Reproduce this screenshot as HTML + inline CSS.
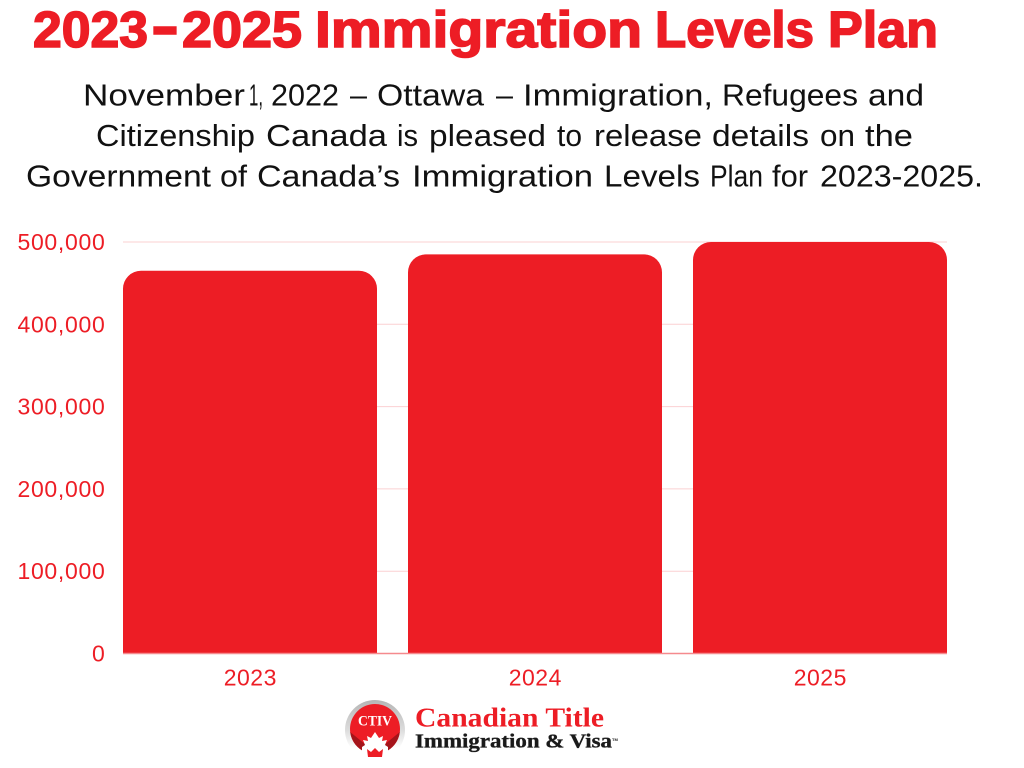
<!DOCTYPE html>
<html lang="en">
<head>
<meta charset="utf-8">
<title>2023-2025 Immigration Levels Plan</title>
<style>
html,body{margin:0;padding:0;background:#fff;width:1024px;height:768px;overflow:hidden}
svg{display:block}
text{font-family:"Liberation Sans",sans-serif}
</style>
</head>
<body>
<svg id="chart" width="1024" height="768" viewBox="0 0 1024 768" xmlns="http://www.w3.org/2000/svg">
  <defs>
    <linearGradient id="ringFade" x1="0" y1="0" x2="0" y2="1">
      <stop offset="0" stop-color="#b5b5b5"/>
      <stop offset="0.5" stop-color="#dcdcdc"/>
      <stop offset="0.8" stop-color="#ffffff"/>
    </linearGradient>
  </defs>
  <rect width="1024" height="768" fill="#ffffff"/>
  <g font-size="51" font-weight="700" fill="#ed1d25" stroke="#ed1d25" stroke-width="1.6">
    <text x="33" y="47" textLength="115" lengthAdjust="spacingAndGlyphs">2023</text>
    <text x="153.5" y="44" stroke-width="3.5" textLength="23" lengthAdjust="spacingAndGlyphs">–</text>
    <text x="182" y="47" textLength="120" lengthAdjust="spacingAndGlyphs">2025</text>
    <text x="315" y="47" textLength="327" lengthAdjust="spacingAndGlyphs">Immigration</text>
    <text x="655" y="47" textLength="159" lengthAdjust="spacingAndGlyphs">Levels</text>
    <text x="828" y="47" textLength="110" lengthAdjust="spacingAndGlyphs">Plan</text>
  </g>
  <g font-size="31" fill="#111111">
    <g>
      <text x="83" y="105.5" textLength="162" lengthAdjust="spacingAndGlyphs">November</text>
      <text x="249" y="105.5" textLength="14" lengthAdjust="spacingAndGlyphs">1,</text>
      <text x="271" y="105.5" textLength="68" lengthAdjust="spacingAndGlyphs">2022</text>
      <text x="350" y="105.5" textLength="17" lengthAdjust="spacingAndGlyphs">–</text>
      <text x="377" y="105.5" textLength="107" lengthAdjust="spacingAndGlyphs">Ottawa</text>
      <text x="496" y="105.5" textLength="17" lengthAdjust="spacingAndGlyphs">–</text>
      <text x="523" y="105.5" textLength="190" lengthAdjust="spacingAndGlyphs">Immigration,</text>
      <text x="722" y="105.5" textLength="136" lengthAdjust="spacingAndGlyphs">Refugees</text>
      <text x="868" y="105.5" textLength="56" lengthAdjust="spacingAndGlyphs">and</text>
    </g>
    <g>
      <text x="96" y="146" textLength="159" lengthAdjust="spacingAndGlyphs">Citizenship</text>
      <text x="266" y="146" textLength="121" lengthAdjust="spacingAndGlyphs">Canada</text>
      <text x="397" y="146" textLength="21" lengthAdjust="spacingAndGlyphs">is</text>
      <text x="429" y="146" textLength="117" lengthAdjust="spacingAndGlyphs">pleased</text>
      <text x="557" y="146" textLength="25" lengthAdjust="spacingAndGlyphs">to</text>
      <text x="594" y="146" textLength="108" lengthAdjust="spacingAndGlyphs">release</text>
      <text x="712" y="146" textLength="97" lengthAdjust="spacingAndGlyphs">details</text>
      <text x="820" y="146" textLength="35" lengthAdjust="spacingAndGlyphs">on</text>
      <text x="865" y="146" textLength="48" lengthAdjust="spacingAndGlyphs">the</text>
    </g>
    <g>
      <text x="26" y="186.5" textLength="185" lengthAdjust="spacingAndGlyphs">Government</text>
      <text x="220" y="186.5" textLength="27" lengthAdjust="spacingAndGlyphs">of</text>
      <text x="257" y="186.5" textLength="143" lengthAdjust="spacingAndGlyphs">Canada’s</text>
      <text x="412" y="186.5" textLength="181" lengthAdjust="spacingAndGlyphs">Immigration</text>
      <text x="604" y="186.5" textLength="96" lengthAdjust="spacingAndGlyphs">Levels</text>
      <text x="710" y="186.5" textLength="53" lengthAdjust="spacingAndGlyphs">Plan</text>
      <text x="772" y="186.5" textLength="36" lengthAdjust="spacingAndGlyphs">for</text>
      <text x="820" y="186.5" textLength="163" lengthAdjust="spacingAndGlyphs">2023-2025.</text>
    </g>
  </g>
  <g id="grid"></g>
  <g id="bars"></g>
  <g id="yaxis"></g>
  <g id="xaxis"></g>
  <g>
    <circle cx="375" cy="730" r="30" fill="url(#ringFade)"/>
    <circle cx="375" cy="729" r="25" fill="#ed1d25"/>
    <path d="M350.2 732 L366 745 L384 745 L399.8 732 A25 25 0 0 1 384 752.3 L366 752.3 A25 25 0 0 1 350.2 732 Z" fill="#a5141a"/>
    <text x="358" y="725.5" font-size="15" font-weight="700" fill="#ffffff" textLength="34" lengthAdjust="spacingAndGlyphs" style="font-family:'Liberation Serif',serif">CTIV</text>
    <path d="M375 732 L379 738 L383 736 L382 741 L387 740 L385 745 L388 747 L381 750 L369 750 L362 747 L365 745 L363 740 L368 741 L367 736 L371 738 Z" fill="#ffffff"/>
    <path d="M362 747 L388 747 L388 759 L362 759 Z" fill="#ffffff"/>
    <path d="M367 749 L371 752 L375 748 L379 752 L383 749 L382 757 L368 757 Z" fill="#ed1d25"/>
    <text x="415" y="726.5" font-size="27" font-weight="700" fill="#ed1d25" textLength="189" lengthAdjust="spacingAndGlyphs" style="font-family:'Liberation Serif',serif">Canadian Title</text>
    <text x="415" y="747.5" font-size="20" font-weight="700" fill="#1a1a1a" stroke="#1a1a1a" stroke-width="0.35" textLength="197" lengthAdjust="spacingAndGlyphs" style="font-family:'Liberation Serif',serif">Immigration &amp; Visa</text>
    <text x="612" y="741" font-size="4" font-weight="700" fill="#1a1a1a">TM</text>
  </g>
</svg>
<script>
var categories = ['2023', '2024', '2025'];
var admissions = [465000, 485000, 500000];
var yTickValues = [0, 100000, 200000, 300000, 400000, 500000];
var yTickLabels = ['0', '100,000', '200,000', '300,000', '400,000', '500,000'];

var NS = 'http://www.w3.org/2000/svg';
var plotLeft = 123, plotRight = 947, plotBottom = 653.5, plotTop = 242;
var yMax = 500000;
var bandStep = (plotRight - plotLeft + 31) / categories.length;
var barWidth = 254, radius = 18;
var red = '#ed1d25';

function yScale(v) { return plotBottom - (v / yMax) * (plotBottom - plotTop); }
function xBand(i) { return plotLeft + i * bandStep; }
function make(tag, attrs) {
  var el = document.createElementNS(NS, tag);
  for (var k in attrs) el.setAttribute(k, attrs[k]);
  return el;
}

var gridGroup = document.getElementById('grid');
var barGroup = document.getElementById('bars');
var yGroup = document.getElementById('yaxis');
var xGroup = document.getElementById('xaxis');

yTickValues.forEach(function (v, i) {
  var y = yScale(v);
  var line = make('line', { x1: plotLeft, x2: plotRight, y1: y, y2: y, stroke: v === 0 ? '#f58a8e' : '#fbd0d2', 'stroke-width': v === 0 ? 1.5 : 1 });
  
  
  (v === 0 ? xGroup : gridGroup).appendChild(line);

  var label = make('text', { x: 105.5, y: y + 8, 'font-size': 23, 'letter-spacing': 0.7, fill: red, 'text-anchor': 'end' });
  
  
  label.textContent = yTickLabels[i];
  yGroup.appendChild(label);
});

categories.forEach(function (c, i) {
  var x = xBand(i), y = yScale(admissions[i]), r = radius;
  var d = 'M' + x + ' ' + plotBottom + ' L' + x + ' ' + (y + r) +
    ' A' + r + ' ' + r + ' 0 0 1 ' + (x + r) + ' ' + y +
    ' L' + (x + barWidth - r) + ' ' + y +
    ' A' + r + ' ' + r + ' 0 0 1 ' + (x + barWidth) + ' ' + (y + r) +
    ' L' + (x + barWidth) + ' ' + plotBottom + ' Z';
  var bar = make('path', { d: d, fill: red });
  
  
  barGroup.appendChild(bar);

  var label = make('text', { x: x + barWidth / 2 + 0.3, y: 685.5, 'font-size': 23, 'letter-spacing': 0.5, fill: red, 'text-anchor': 'middle' });
  
  
  label.textContent = c;
  xGroup.appendChild(label);
});
</script>
</body>
</html>
